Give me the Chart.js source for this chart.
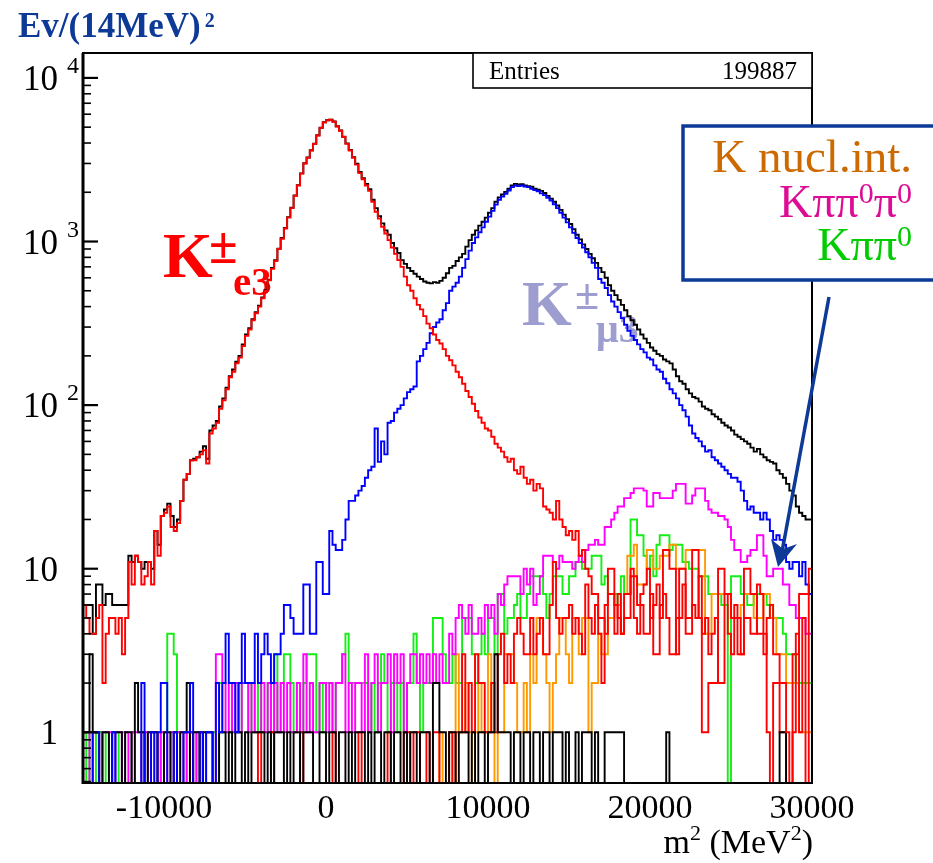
<!DOCTYPE html>
<html><head><meta charset="utf-8">
<script src="https://cdn.jsdelivr.net/npm/chart.js@4"></script>
<style>html,body{margin:0;padding:0;background:#fff;}canvas{display:block;}</style>
</head><body>
<canvas id="c" width="933" height="863"></canvas>
<script>
// ---- axis / binning ----
const X_MIN = -15000, X_MAX = 30000, BIN_W = 200;   // histogram bins of m^2 (MeV^2)
const Y_MIN = 0.49, Y_MAX = 14200;                   // log axis range
const ZERO_FLOOR = 0.3;                              // empty bins drop below the axis
const xTickValues = [-10000, 0, 10000, 20000, 30000];
const xTickLabels = ['-10000', '0', '10000', '20000', '30000'];
const yTickValues = [1, 10, 100, 1000, 10000];
const yTickBase = ['1', '10', '10', '10', '10'];
const yTickExp = ['', '', '2', '3', '4'];

// ---- histogram contents (225 bins each) ----
const total = [
6,6,6,4,8,8,6,7,7,6,6,6,6,6,12,
11,12,11,10,11,11,10,17,14,21,23,25,21,18,20,
26,35,38,46,47,48,52,56,47,70,75,80,98,110,128,
150,165,184,200,235,270,295,335,370,405,455,505,585,690,770,
905,1050,1210,1410,1610,1910,2210,2610,3010,3260,3610,3960,4460,4960,5360,
5510,5560,5420,5070,4770,4370,3980,3630,3280,2990,2660,2440,2250,2090,1800,
1600,1430,1290,1170,1100,980,910,850,770,730,690,660,635,610,590,
570,560,555,565,560,575,600,640,690,710,760,800,840,930,1020,
1100,1170,1250,1320,1400,1500,1600,1750,1860,1940,2010,2100,2200,2250,2230,
2240,2200,2180,2160,2100,2070,2040,1980,1900,1830,1750,1660,1560,1460,1370,
1280,1190,1100,1030,960,900,840,790,740,690,650,600,540,500,470,
440,410,380,350,330,310,290,270,255,240,225,215,205,200,190,
185,180,165,150,140,135,125,118,112,110,105,98,95,93,88,
85,82,78,75,73,70,66,64,62,60,58,55,52,54,50,
48,46,45,44,40,38,36,33,30,28,24,22,21,20,20];

const ke3 = [
6,5,4,4,5,6,2,4,5,5,4,5,3,5,11,
8,12,11,8,9,11,8,17,12,21,22,24,18,17,19,
26,35,38,46,46,48,50,53,44,67,72,78,95,107,125,
148,160,180,195,230,265,290,330,364,400,450,500,580,680,760,
900,1040,1200,1400,1600,1900,2200,2600,3000,3250,3600,3950,4450,4950,5350,
5500,5550,5400,5050,4750,4350,3950,3600,3250,2950,2620,2400,2200,2040,1750,
1520,1380,1230,1120,1020,920,840,770,700,610,540,500,450,410,385,
350,315,295,270,250,238,220,200,188,175,160,148,135,122,112,
102,92,84,78,72,70,64,58,55,52,48,45,47,40,38,
42,36,33,35,30,33,31,24,23,22,20,26,20,18,16,
17,15,17,12,13,10,9,7,7,4,2,6,10,10,6,
5,4,7,7,9,9,6,6,4,4,7,3,3,6,13,
13,10,10,3,10,10,5,5,13,13,5,1,1,2,2,
2,10,10,7,7,5,5,3,3,10,10,7,7,4,4,
4,1,0,2,2,2,2,1,0,3,3,7,7,7,10];

const kmu3 = [
0,0,0,1,1,0,0,0,0,1,0,0,0,0,0,
0,0,0,2,0,0,1,0,1,2,2,0,0,1,0,
0,1,1,2,0,0,1,0,1,1,0,2,1,2,4,
2,2,1,2,4,2,2,2,4,2,3,4,3,2,3,
3,4,6,6,5,4,4,4,8,8,4,4,11,11,7,
7,17,14,13,13,15,20,26,26,28,30,32,36,40,42,
72,45,60,50,78,80,90,95,100,110,120,125,130,185,200,
220,240,275,300,320,335,380,420,500,530,560,610,690,780,880,
980,1060,1140,1220,1320,1420,1540,1680,1800,1880,1960,2050,2150,2200,2180,
2200,2170,2150,2100,2060,2030,1970,1920,1850,1780,1690,1600,1500,1400,1310,
1220,1130,1050,980,920,860,800,740,690,590,560,520,470,430,400,
370,340,310,285,265,250,235,220,210,195,190,175,165,160,145,
136,125,118,110,100,93,85,75,67,63,60,56,52,53,48,
46,44,42,40,38,36,36,34,30,26,23,24,22,22,20,
22,20,17,15,16,15,14,11,10,11,11,9,11,8,7];

const kpipi0 = [
1,0,1,0,1,1,0,1,0,0,1,0,1,0,0,
1,0,0,1,0,1,0,1,0,1,1,4,4,3,1,
0,1,0,1,1,0,1,0,1,1,1,0,2,1,1,
1,2,2,1,2,2,1,2,1,2,1,1,2,1,3,
1,2,3,3,2,1,2,1,2,3,3,3,1,2,1,
2,2,1,2,2,3,4,2,2,2,2,2,2,1,2,
1,2,3,2,1,2,2,1,2,1,2,2,4,2,1,
2,2,2,5,5,5,3,2,2,3,2,2,5,5,5,
3,2,3,4,3,5,5,3,7,7,4,5,5,6,7,
5,5,7,9,9,9,9,7,5,7,9,9,9,7,7,
9,9,11,11,10,10,10,12,12,12,8,9,7,7,7,
6,9,7,7,20,20,16,16,12,10,12,9,14,16,16,
16,13,14,14,14,11,11,10,10,10,9,9,9,7,7,
7,7,6,6,0,9,9,9,7,7,6,6,7,7,7,
7,6,6,5,5,5,4,3,3,3,2,2,2,2,2];

const kpipi0pi0 = [
1,1,0,1,1,0,1,1,1,0,1,1,0,1,0,
1,1,1,0,1,0,1,1,0,1,1,0,1,0,1,
1,0,1,1,0,1,1,0,1,1,0,3,3,2,1,
2,1,2,1,2,2,1,2,1,1,2,1,2,1,2,
1,2,1,2,1,1,2,1,3,1,2,1,1,2,2,
1,2,1,2,2,3,1,2,1,2,2,1,3,1,2,
3,1,2,2,3,1,3,2,3,1,2,3,3,2,3,
2,3,2,3,2,3,2,2,4,3,5,6,5,4,6,
4,4,5,4,6,5,6,4,7,6,8,9,9,9,9,
7,10,8,10,6,7,9,12,12,12,11,10,12,11,11,
11,10,11,12,11,13,14,14,15,14,14,18,18,20,22,
24,24,27,27,29,31,31,31,30,24,24,29,29,27,27,
27,27,30,33,33,33,25,25,28,31,31,31,26,23,22,
22,21,21,20,18,15,13,13,11,11,12,13,13,16,16,
12,9,9,10,10,10,8,8,6,6,5,5,5,4,4];

const knucl = [
0,0,0,0,0,0,0,0,0,0,0,0,0,0,0,
0,0,0,0,0,0,0,0,0,0,0,0,0,0,0,
0,0,0,0,0,0,0,0,0,0,0,0,0,0,0,
0,0,0,0,0,0,0,0,0,0,0,0,0,0,0,
0,0,0,0,0,0,0,0,0,0,0,0,0,0,0,
0,0,0,0,0,0,0,0,0,0,0,0,0,0,0,
0,0,0,0,0,0,0,0,0,0,0,0,0,0,0,
0,0,0,0,0,1,0,0,1,0,3,1,1,2,1,
0,1,2,1,1,3,1,0,1,1,3,3,3,2,1,
1,2,1,3,2,5,5,3,2,1,2,3,5,5,3,
2,5,5,3,5,5,1,2,2,4,3,3,5,5,6,
6,4,7,12,12,14,8,8,8,13,13,10,10,12,12,
12,14,14,10,10,10,13,13,13,13,13,13,4,4,7,
7,7,7,7,7,5,5,5,6,7,7,7,5,5,5,
7,7,5,5,3,3,3,2,2,2,2,1,1,1,1];

const otherRed = [
0,0,0,0,0,0,0,0,0,0,0,0,0,0,0,
0,0,0,0,0,0,0,0,0,0,0,0,0,0,0,
0,0,0,1,0,0,1,0,0,0,0,0,0,0,0,
0,0,0,0,0,0,0,0,0,1,0,0,0,1,0,
0,0,0,0,0,0,0,1,0,0,0,0,0,0,0,
0,0,1,0,0,0,0,0,0,0,1,0,0,0,0,
0,0,0,0,1,0,0,0,0,1,1,0,1,1,0,
0,1,0,1,1,0,0,0,1,0,1,1,3,1,2,
1,3,2,2,1,1,2,1,3,4,2,3,2,4,5,
4,3,3,5,3,4,5,3,3,6,11,5,4,5,5,
6,4,5,4,3,8,5,4,6,5,5,4,7,7,4,
7,4,5,5,10,5,4,7,8,10,5,6,8,5,7,
5,3,3,5,5,8,4,4,6,5,9,4,5,3,4,
5,2,2,7,4,3,6,5,3,5,5,4,4,8,7,
3,5,6,3,3,1,1,0,0,1,4,1,5,0,7];

const otherBlack = [
1,1,3,1,1,0,1,1,0,1,1,1,0,1,1,
0,2,1,1,0,1,1,1,0,0,1,1,0,1,0,
1,1,2,0,1,1,0,1,1,1,0,0,1,1,0,
1,0,1,1,0,1,0,1,1,1,1,0,1,0,1,
1,1,0,1,0,1,1,0,1,1,1,0,0,1,1,
0,1,1,0,1,1,0,1,0,1,1,1,0,1,0,
1,1,0,1,1,0,1,1,0,1,0,1,1,0,1,
1,1,0,2,2,1,1,0,1,1,0,1,1,1,0,
1,0,1,1,0,1,1,3,1,1,1,1,0,1,1,
0,1,1,0,1,1,0,1,1,0,1,1,1,0,1,
0,0,1,0,1,1,1,0,1,0,0,1,1,1,1,
1,1,0,0,0,0,0,0,0,0,0,0,0,0,0,
1,0,0,0,0,0,0,0,0,0,0,0,0,0,0,
0,0,0,0,0,0,0,0,0,0,0,0,0,0,0,
0,0,0,0,0,1,1,0,0,0,0,0,0,0,0];

const series = [
  {label: 'Total',      values: total,      color: '#000000', order: 8},
  {label: 'K pi pi0',   values: kpipi0,     color: '#14ee14', order: 7},
  {label: 'K nucl.int.',values: knucl,      color: '#ff9900', order: 6},
  {label: 'K pi0 pi0',  values: kpipi0pi0,  color: '#ff00ff', order: 5},
  {label: 'other red',  values: otherRed,   color: '#ff0000', order: 4},
  {label: 'other',      values: otherBlack, color: '#000000', order: 3},
  {label: 'Kmu3',       values: kmu3,       color: '#0000ff', order: 2},
  {label: 'Ke3',        values: ke3,        color: '#ff0000', order: 1}
];

function histData(vals) {
  const pts = vals.map((v, i) => ({x: X_MIN + i * BIN_W, y: v > 0 ? v : ZERO_FLOOR}));
  const last = vals[vals.length - 1];
  pts.push({x: X_MIN + vals.length * BIN_W, y: last > 0 ? last : ZERO_FLOOR});
  return pts;
}

const SERIF = "'Liberation Serif', 'Times New Roman', serif";
function fnt(size, bold) { return (bold ? 'bold ' : '') + size + 'px ' + SERIF; }
function drawSegs(ctx, segs, x, baseline, align, color, bold) {
  let w = 0;
  for (const s of segs) { ctx.font = fnt(s[1], bold); w += ctx.measureText(s[0]).width; }
  let cx = align === 'right' ? x - w : (align === 'center' ? x - w / 2 : x);
  ctx.fillStyle = color; ctx.textAlign = 'left'; ctx.textBaseline = 'alphabetic';
  for (const s of segs) {
    ctx.font = fnt(s[1], bold);
    ctx.fillText(s[0], cx, baseline + s[2]);
    cx += ctx.measureText(s[0]).width;
  }
}

const deco = {
  id: 'deco',
  beforeDatasetsDraw(chart) {
    const ctx = chart.ctx;
    ctx.save();
    // K±e3 label
    ctx.fillStyle = '#ff0000'; ctx.textAlign = 'left'; ctx.textBaseline = 'alphabetic';
    ctx.font = fnt(64, true); ctx.fillText('K', 163, 277);
    ctx.font = fnt(52, true); ctx.fillText('±', 209, 263);
    ctx.font = fnt(41, true); ctx.fillText('e3', 233, 295);
    // K±μ3 label
    ctx.fillStyle = '#9d9dcf';
    ctx.font = fnt(64, true); ctx.fillText('K', 522, 325);
    ctx.font = fnt(44, true); ctx.fillText('±', 575, 309);
    ctx.font = fnt(40, true); ctx.fillText('μ3', 596, 342);
    ctx.restore();
  },
  afterDatasetsDraw(chart) {
    const ctx = chart.ctx;
    const a = chart.chartArea;
    const xs = chart.scales.x, ys = chart.scales.y;
    ctx.save();
    // frame
    ctx.strokeStyle = '#000'; ctx.lineWidth = 2;
    ctx.strokeRect(a.left, a.top, a.right - a.left, a.bottom - a.top);
    ctx.lineWidth = 3;
    ctx.beginPath(); ctx.moveTo(a.left, a.top); ctx.lineTo(a.left, a.bottom + 1); ctx.stroke();
    // y ticks (inside)
    for (let e = -1; e <= 4; e++) {
      for (let k = 1; k <= 9; k++) {
        const v = k * Math.pow(10, e);
        if (v < Y_MIN || v > Y_MAX) continue;
        const y = ys.getPixelForValue(v);
        ctx.lineWidth = k === 1 ? 2.2 : 1.6;
        ctx.beginPath(); ctx.moveTo(a.left, y); ctx.lineTo(a.left + (k === 1 ? 15 : 8), y); ctx.stroke();
      }
    }
    // y labels
    ctx.fillStyle = '#000';
    yTickValues.forEach((v, i) => {
      const y = ys.getPixelForValue(v);
      ctx.font = fnt(35, false); ctx.textAlign = 'right'; ctx.textBaseline = 'alphabetic';
      ctx.fillText(yTickBase[i], 58, y + 12);
      if (yTickExp[i]) {
        ctx.font = fnt(24, false); ctx.textAlign = 'left';
        ctx.fillText(yTickExp[i], 67, y - 5);
      }
    });
    // x labels
    ctx.font = fnt(34, false); ctx.textAlign = 'center'; ctx.textBaseline = 'alphabetic';
    xTickValues.forEach((v, i) => {
      ctx.fillText(xTickLabels[i], xs.getPixelForValue(v), 818);
    });
    // x title
    drawSegs(ctx, [['m', 34, 0], ['2', 22, -13], [' (MeV', 34, 0], ['2', 22, -13], [')', 34, 0]], 813, 853, 'right', '#000', false);
    // y title
    drawSegs(ctx, [['Ev/(14MeV)', 35, 0], ['  ', 8, 0], ['2', 20, -10]], 18, 37, 'left', '#0d3a96', true);
    // stats box
    ctx.fillStyle = '#fff'; ctx.fillRect(473, 53, a.right - 473, 35);
    ctx.strokeStyle = '#000'; ctx.lineWidth = 1.6;
    ctx.strokeRect(473, 53, a.right - 473, 35);
    ctx.fillStyle = '#000'; ctx.font = fnt(25, false); ctx.textBaseline = 'alphabetic';
    ctx.textAlign = 'left'; ctx.fillText('Entries', 489, 79);
    ctx.textAlign = 'right'; ctx.fillText('199887', 797, 79);
    // legend box
    ctx.fillStyle = '#fff'; ctx.fillRect(683, 126, 270, 154);
    ctx.strokeStyle = '#0d3a96'; ctx.lineWidth = 3.5;
    ctx.strokeRect(683, 126, 270, 154);
    drawSegs(ctx, [['K nucl.int.', 47, 0]], 912, 172, 'right', '#cc6a00', false);
    drawSegs(ctx, [['Kππ', 46, 0], ['0', 30, -14], ['π', 46, 0], ['0', 30, -14]], 912, 217, 'right', '#dc0c96', false);
    drawSegs(ctx, [['Kππ', 46, 0], ['0', 30, -14]], 912, 260, 'right', '#00cc00', false);
    // arrow
    ctx.strokeStyle = '#0d3a96'; ctx.fillStyle = '#0d3a96'; ctx.lineWidth = 3.5;
    ctx.beginPath(); ctx.moveTo(829, 297); ctx.lineTo(782, 552); ctx.stroke();
    ctx.beginPath();
    ctx.moveTo(778, 567); ctx.lineTo(771, 539); ctx.lineTo(783, 549); ctx.lineTo(797, 544);
    ctx.closePath(); ctx.fill();
    ctx.restore();
  }
};

new Chart(document.getElementById('c'), {
  type: 'line',
  data: {
    datasets: series.map(s => ({
      label: s.label,
      data: histData(s.values),
      borderColor: s.color,
      backgroundColor: s.color,
      borderWidth: 1.9,
      stepped: true,
      pointRadius: 0,
      fill: false,
      tension: 0,
      order: s.order,
      clip: 0
    }))
  },
  options: {
    responsive: false,
    animation: false,
    devicePixelRatio: 1,
    events: [],
    layout: {padding: {left: 83, top: 53, right: 121, bottom: 80}},
    scales: {
      x: {type: 'linear', min: X_MIN, max: X_MAX, display: false, bounds: 'data'},
      y: {type: 'logarithmic', min: Y_MIN, max: Y_MAX, display: false, bounds: 'data'}
    },
    plugins: {legend: {display: false}, tooltip: {enabled: false}, title: {display: false}}
  },
  plugins: [deco]
});
</script>
</body></html>
